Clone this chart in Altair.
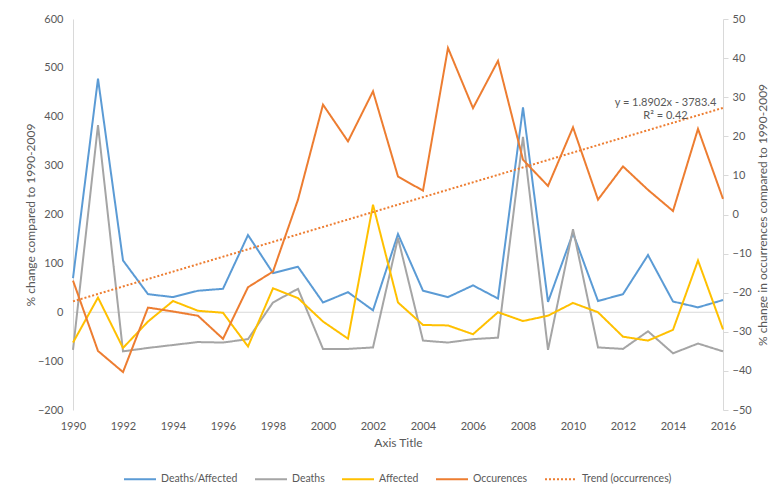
import altair as alt
import pandas as pd

years = list(range(1990, 2017))
deaths_affected = [70, 478, 106, 37, 31, 44, 48, 158, 80, 93, 20, 41, 4, 160, 44, 31, 55, 28, 419,
                   21, 162, 23, 37, 117, 22, 10, 25]
deaths = [-77, 383, -80, -73, -67, -61, -62, -55, 20, 48, -75, -75, -72, 152, -58, -62, -55, -52, 359,
          -77, 170, -72, -75, -39, -84, -64, -80]
affected = [-62, 30, -73, -19, 23, 3, -1, -70, 49, 29, -19, -54, 220, 20, -26, -27, -45, 0, -18,
            -7, 19, 0, -50, -58, -36, 106, -35]
occurences = [-16.9, -34.9, -40.3, -23.8, -24.8, -25.9, -31.8, -18.6, -14.6, 3.8, 28.1, 18.7, 31.5,
              9.7, 6.1, 42.6, 27.2, 39.3, 14.0, 7.3, 22.3, 3.8, 12.3, 6.3, 0.9, 21.9, 4.0]

series_names = ["Deaths/Affected", "Deaths", "Affected", "Occurences", "Trend (occurrences)"]
series_colors = ["#5B9BD5", "#A5A5A5", "#FFC000", "#ED7D31", "#ED7D31"]
series_dashes = [[1, 0], [1, 0], [1, 0], [1, 0], [2, 2]]
left_ticks = list(range(-200, 601, 100))
right_ticks = list(range(-50, 51, 10))
x_ticks = list(range(1990, 2017, 2))
trend_label = ["y = 1.8902x - 3783.4", "R\u00b2 = 0.42"]
trend_label_year = [2013.7, 2013.7]
trend_label_value = [28.6, 25.2]

FONT = "Lato"
TXT = "#595959"
LINE = "#D9D9D9"

left_df = pd.DataFrame({
    "year": years * 3,
    "value": deaths_affected + deaths + affected,
    "series": ["Deaths/Affected"] * 27 + ["Deaths"] * 27 + ["Affected"] * 27,
})
occ_df = pd.DataFrame({"year": years, "value": occurences, "series": ["Occurences"] * 27})
zero_df = pd.DataFrame({"zero": [0]})
label_df = pd.DataFrame({"year": trend_label_year, "value": trend_label_value, "label": trend_label})

x_axis = alt.Axis(values=x_ticks, format="d", title="Axis Title", domain=False, ticks=False,
                  grid=False, labelPadding=10, titlePadding=6, labelFontSize=11, titleFontSize=12,
                  labelColor=TXT, titleColor=TXT, titleFontWeight="normal", labelFont=FONT,
                  titleFont=FONT, labelFlush=False)
x_scale = alt.Scale(domain=[1990, 2016], nice=False, zero=False)

def xenc():
    return alt.X("year:Q", scale=x_scale, axis=x_axis)

left_scale = alt.Scale(domain=[-200, 600], nice=False, zero=False)
left_axis = alt.Axis(values=left_ticks, title="% change compared to 1990-2009", domain=True,
                     domainColor=LINE, ticks=False, grid=False, labelPadding=10,
                     titleX=-43, titleY=195.5, titleAngle=270, titleBaseline="middle",
                     titleAlign="center", labelFontSize=11, titleFontSize=12,
                     labelColor=TXT, titleColor=TXT, titleFontWeight="normal",
                     labelFont=FONT, titleFont=FONT, labelFlush=False)
right_scale = alt.Scale(domain=[-50, 50], nice=False, zero=False)
right_axis = alt.Axis(values=right_ticks, orient="right",
                      title="% change in occurrences compared to 1990-2009", domain=True,
                      domainColor=LINE, ticks=True, tickColor=LINE, tickSize=5, grid=False,
                      labelPadding=4, titleX=39, titleY=195.5, titleAngle=270,
                      titleBaseline="middle", titleAlign="center", labelFontSize=11,
                      titleFontSize=12, labelColor=TXT, titleColor=TXT,
                      titleFontWeight="normal", labelFont=FONT, titleFont=FONT,
                      labelFlush=False)

legend = alt.Legend(title=None, orient="none", legendX=50, legendY=443, direction="horizontal",
                    symbolType="stroke", symbolSize=1024, symbolStrokeWidth=2,
                    labelFontSize=10.5, labelColor=TXT, labelFont=FONT, columnPadding=13,
                    labelOffset=4)
color_enc = alt.Color("series:N", scale=alt.Scale(domain=series_names, range=series_colors),
                      legend=legend)
dash_enc = alt.StrokeDash("series:N", scale=alt.Scale(domain=series_names, range=series_dashes),
                          legend=legend)

zero_rule = alt.Chart(zero_df).mark_rule(color=LINE, strokeWidth=1).encode(
    y=alt.Y("zero:Q", scale=left_scale, axis=left_axis)
)
left_lines = alt.Chart(left_df).mark_line(strokeWidth=2).encode(
    x=xenc(), y=alt.Y("value:Q", scale=left_scale, axis=left_axis),
    color=color_enc, strokeDash=dash_enc
)
left = alt.layer(zero_rule, left_lines)

occ_line = alt.Chart(occ_df).mark_line(strokeWidth=2).encode(
    x=xenc(), y=alt.Y("value:Q", scale=right_scale, axis=right_axis),
    color=color_enc, strokeDash=dash_enc
)
trend_line = alt.Chart(occ_df).transform_regression(
    "year", "value", extent=[1990, 2016]
).transform_calculate(series="'Trend (occurrences)'").mark_line(strokeWidth=2).encode(
    x=xenc(), y=alt.Y("value:Q", scale=right_scale, axis=right_axis),
    color=color_enc, strokeDash=dash_enc
)
trend_text = alt.Chart(label_df).mark_text(font=FONT, fontSize=11, color=TXT).encode(
    x=xenc(), y=alt.Y("value:Q", scale=right_scale, axis=right_axis), text="label:N"
)
right = alt.layer(occ_line, trend_line, trend_text)

chart = alt.layer(left, right).resolve_scale(y="independent").properties(
    width=650, height=391,
    padding={"left": 65, "top": 11, "right": 45, "bottom": 77},
    autosize=alt.AutoSizeParams(type="none"),
).configure_view(stroke=None)

chart.save("out.html", embed_options={"renderer": "svg", "actions": False})
